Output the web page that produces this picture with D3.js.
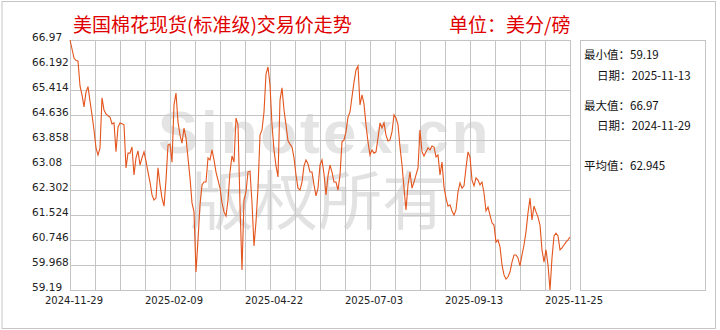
<!DOCTYPE html>
<html>
<head>
<meta charset="utf-8">
<script src="https://cdn.jsdelivr.net/npm/d3@7"></script>
<style>
  body { margin: 0; background: #fff; }
  svg { display: block; font-family: "Noto Sans CJK SC", "Noto Sans", sans-serif; }
</style>
</head>
<body>
<div id="chart"></div>
<script>
// chart title, unit and the stats box
var title = "美国棉花现货(标准级)交易价走势";
var unit = "单位：美分/磅";
var statLabels = ["最小值：59.19", "日期：2025-11-13", "最大值：66.97", "日期：2024-11-29", "平均值：62.945"];

// tick labels
var yTicks = [59.19, 59.968, 60.746, 61.524, 62.302, 63.08, 63.858, 64.636, 65.414, 66.192, 66.97];
var xLabels = ["2024-11-29", "2025-02-09", "2025-04-22", "2025-07-03", "2025-09-13", "2025-11-25"];

// price, evenly spaced from 2024-11-29 to 2025-11-25
var prices = [
  66.97,66.69,66.41,66.33,66.32,65.54,65.26,64.89,65.35,65.52,
  65.07,64.64,64.17,63.61,63.39,63.61,65.17,64.79,64.67,64.61,
  64.57,64.36,64.39,63.49,64.26,64.39,64.36,64.33,62.99,63.45,
  63.45,63.64,62.77,63.30,63.52,63.08,63.30,63.49,63.20,62.86,
  62.55,62.15,61.99,62.05,62.99,62.46,62.05,61.80,62.61,63.70,
  63.73,63.17,64.95,65.32,64.42,64.01,63.76,64.23,63.92,63.30,
  62.68,61.90,61.62,59.75,60.75,61.84,62.46,62.55,62.55,63.30,
  63.24,63.55,63.24,62.86,62.61,62.36,61.90,61.62,61.49,61.99,
  62.86,63.36,63.17,64.54,64.33,61.84,59.81,61.99,62.24,62.86,
  62.89,61.90,60.56,61.31,62.36,64.01,64.17,64.73,65.91,66.13,
  65.57,64.33,63.55,63.05,62.71,65.10,65.48,64.79,64.33,63.83,
  63.73,63.64,63.30,62.77,62.36,62.30,62.55,63.05,63.24,63.11,
  62.86,62.86,62.46,62.12,62.36,63.08,63.24,62.80,62.15,62.74,
  63.08,62.86,62.55,62.55,62.30,62.77,63.80,63.86,64.11,64.57,
  64.73,65.20,65.66,66.04,66.16,64.95,65.26,64.98,64.33,63.80,
  63.39,63.55,63.45,63.49,63.92,64.39,64.23,64.39,64.01,63.83,
  63.86,64.11,64.64,64.54,64.33,63.64,63.08,62.36,61.68,62.46,
  62.86,62.36,62.55,62.77,62.99,64.17,63.49,63.36,63.49,63.61,
  63.55,63.67,63.64,63.33,63.39,62.77,63.17,62.40,62.05,61.80,
  61.84,61.65,61.52,61.68,62.24,62.52,62.36,62.43,62.99,63.49,
  63.33,62.61,62.43,62.68,62.61,62.46,62.55,62.21,61.65,61.77,
  61.52,61.28,61.21,60.68,60.75,60.53,59.97,59.66,59.53,59.60,
  59.75,60.06,60.28,60.28,60.19,59.94,60.28,60.59,61.00,61.59,
  62.05,61.37,61.80,61.62,61.46,61.21,60.44,60.06,60.44,59.97,
  59.19,60.19,60.87,60.96,60.87,60.44,60.50,60.59,60.68,60.75,
  60.84
];

var W = 720, H = 330;
var plot = {left: 70, right: 570, top: 40, bottom: 290};
var n = prices.length;

var svg = d3.select("#chart").append("svg")
    .attr("width", W).attr("height", H);

// outer frame
svg.append("rect").attr("x", 2).attr("y", 1.5).attr("width", 713.5).attr("height", 327)
    .style("fill", "none").style("stroke", "#c6c6c6");

var x = d3.scaleLinear().domain([0, n - 1]).range([plot.left, plot.right]);
var y = d3.scaleLinear().domain([yTicks[0], yTicks[yTicks.length - 1]]).range([plot.bottom, plot.top]);

// watermark
svg.append("text").attr("x", 158).attr("y", 153)
    .style("font-family", "'Liberation Sans', Arial, sans-serif").style("font-weight", "bold")
    .style("font-size", "60px").style("letter-spacing", "3px").style("fill", "#e4e4e4")
    .text("Sinotex.cn");
svg.append("text").attr("x", 190).attr("y", 224)
    .style("font-size", "64px").style("fill", "#e2e2e2")
    .text("版权所有");

// grid
var grid = svg.append("g").style("stroke", "#c4c4c4").style("shape-rendering", "crispEdges");
grid.selectAll(".h").data(yTicks).enter().append("line")
    .attr("x1", plot.left).attr("x2", plot.right)
    .attr("y1", function (d) { return Math.round(y(d)) + 0.5; })
    .attr("y2", function (d) { return Math.round(y(d)) + 0.5; });
grid.selectAll(".v").data(d3.range(21)).enter().append("line")
    .attr("y1", plot.top).attr("y2", plot.bottom)
    .attr("x1", function (i) { return Math.round(x(i * (n - 1) / 20)) + 0.5; })
    .attr("x2", function (i) { return Math.round(x(i * (n - 1) / 20)) + 0.5; });

// y labels
svg.append("g").selectAll("text").data(yTicks).enter().append("text")
    .attr("x", 32).attr("y", function (d) { return y(d) + 1; })
    .style("font-family", "'DejaVu Sans', sans-serif").style("font-size", "10.5px").style("fill", "#222")
    .text(function (d) { return d; });

// x labels
svg.append("g").selectAll("text").data(xLabels).enter().append("text")
    .attr("x", function (d, i) { return x(i * (n - 1) / 5) + 4; })
    .attr("y", 304)
    .attr("text-anchor", "middle")
    .style("font-family", "'DejaVu Sans', sans-serif").style("font-size", "10px").style("fill", "#222")
    .text(function (d) { return d; });

// price line
var line = d3.line()
    .x(function (d, i) { return x(i); })
    .y(function (d) { return y(d); });
svg.append("path").datum(prices).attr("d", line)
    .style("fill", "none").style("stroke", "#e4541c").style("stroke-width", 1.1);

// title and unit
svg.append("text").attr("x", 73).attr("y", 32)
    .style("font-size", "19px").style("fill", "#e00000").text(title);
svg.append("text").attr("x", 449).attr("y", 32)
    .style("font-size", "19px").style("fill", "#e00000").text(unit);

// stats box
svg.append("rect").attr("x", 580.5).attr("y", 40.5).attr("width", 125).attr("height", 250)
    .style("fill", "none").style("stroke", "#c4c4c4");
var statPos = [[584, 59], [597, 80], [584, 110], [597, 130], [584, 170]];
svg.append("g").selectAll("text").data(statLabels).enter().append("text")
    .attr("x", function (d, i) { return statPos[i][0]; })
    .attr("y", function (d, i) { return statPos[i][1]; })
    .style("font-size", "11.5px").style("fill", "#111")
    .text(function (d) { return d; });
</script>
</body>
</html>
